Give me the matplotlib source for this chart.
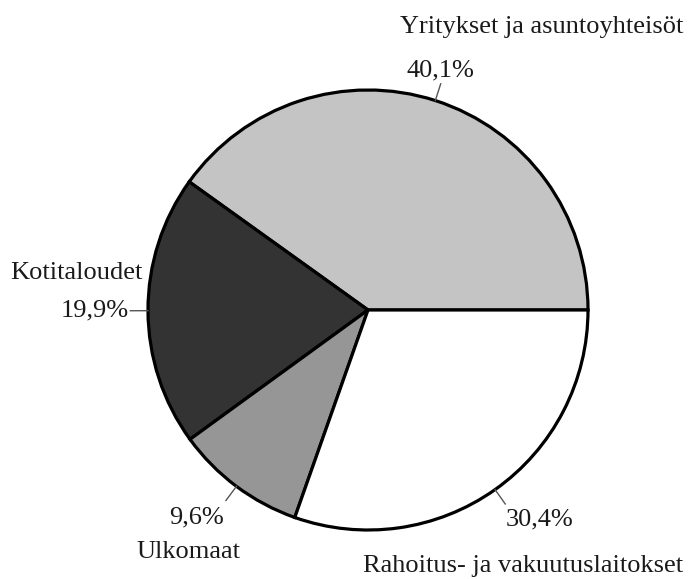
import matplotlib.pyplot as plt
import numpy as np

# Sektorijakauma
labels = ['Yritykset ja asuntoyhteisöt', 'Kotitaloudet', 'Ulkomaat', 'Rahoitus- ja vakuutuslaitokset']
shares = [40.1, 19.9, 9.6, 30.4]
colors = ['#c4c4c4', '#333333', '#969696', '#ffffff']

W, H = 689, 579
cx, cy, R = 368, H - 310, 220

fig = plt.figure(figsize=(W / 100, H / 100), dpi=100)
ax = fig.add_axes([0, 0, 1, 1])

wedges, _ = ax.pie(shares, colors=colors, startangle=0, counterclock=True,
                   center=(cx, cy), radius=R, frame=True,
                   wedgeprops=dict(edgecolor='black', linewidth=2.3))
ax.set_xlim(0, W)
ax.set_ylim(0, H)
ax.set_aspect('equal')
ax.axis('off')

font = dict(family='Liberation Serif', fontsize=19, color='#1a1a1a')

# prosenttiluvut ja viivat
pct_align = [('center', 'bottom', 0, 2), ('right', 'center', -2, 0),
             ('right', 'top', -2, -6), ('left', 'top', 0, -4)]
for w, v, (ha, va, dx, dy) in zip(wedges, shares, pct_align):
    a = np.deg2rad((w.theta1 + w.theta2) / 2)
    x0, y0 = cx + R * np.cos(a), cy + R * np.sin(a)
    x1, y1 = cx + 1.08 * R * np.cos(a), cy + 1.08 * R * np.sin(a)
    ax.plot([x0, x1], [y0, y1], color='#555555', lw=1)
    ax.text(x1 + dx, y1 + dy, ('%.1f%%' % v).replace('.', ','), ha=ha, va=va, **font)

# sektorien nimet
name_pos = [(683, H - 27, 'right'), (143, H - 273, 'right'),
            (188, H - 552, 'center'), (683, H - 566, 'right')]
for name, (x, y, ha) in zip(labels, name_pos):
    ax.text(x, y, name, ha=ha, va='center', **font)

fig.savefig('out.png', dpi=100, facecolor='white')
